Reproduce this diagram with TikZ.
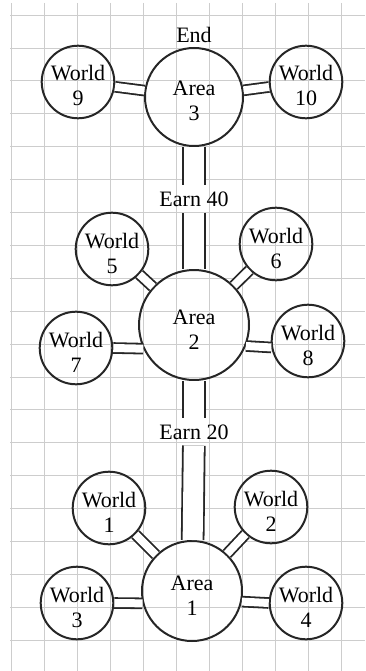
\documentclass[tikz,border=0pt]{standalone}
\usepackage{fontspec}
\setmainfont{Liberation Serif}
\usetikzlibrary{positioning}

\definecolor{ink}{HTML}{262626}
\definecolor{paper}{HTML}{CDCDCD}

\tikzset{
  area/.style={circle,draw=ink,line width=2pt,minimum size=98pt,inner sep=0pt,align=center,
    text height=48pt,text depth=-8pt},
  world/.style={area,minimum size=68pt},
  earn/.style={inner sep=6pt},
  road/.style={draw=ink,line width=1.8pt,double=white,double distance=8pt},
  bigroad/.style={road,double distance=20pt},
}

\begin{document}
\begin{tikzpicture}[x=1pt,y=-1pt,on grid,font=\fontsize{22}{25}\selectfont]
\useasboundingbox (0,0) rectangle (365,671);

% squared paper
\foreach \x in {0,...,10}
  \draw[paper,line width=0.7pt] (11+33*\x,3) -- (11+33*\x,671);
\foreach \y in {0,...,19}
  \draw[paper,line width=0.7pt] (10,15+32.9*\y) -- (365,15+32.9*\y);

\node (a3) [area] at (194,97) {Area\\3};
\node (end) [above=62pt of a3] {End};
\node (e40) [earn,below=102pt of a3] {Earn 40};
\node (a2) [area,minimum size=110pt,below=126pt of e40] {Area\\2};
\node (e20) [earn,below=107pt of a2] {Earn 20};
\node (a1) [area,minimum size=100pt,below=159pt of e20,xshift=-2pt] {Area\\1};

\node (w9) [world,above left=15pt and 116pt of a3] {World\\9};
\node (w10) [world,minimum size=66pt,above right=15pt and 112pt of a3] {World\\10};

\node (w5) [world,minimum size=72pt,above left=76pt and 82pt of a2] {World\\5};
\node (w6) [world,minimum size=70pt,above right=81pt and 82pt of a2] {World\\6};
\node (w7) [world,minimum size=72pt,below left=23pt and 118pt of a2] {World\\7};
\node (w8) [world,minimum size=70pt,below right=16pt and 114pt of a2] {World\\8};

\node (w1) [world,minimum size=66pt,above left=83pt and 83pt of a1] {World\\1};
\node (w2) [world,minimum size=66pt,above right=84pt and 79pt of a1] {World\\2};
\node (w3) [world,minimum size=70pt,below left=12pt and 115pt of a1] {World\\3};
\node (w4) [world,minimum size=72pt,below right=12pt and 114pt of a1] {World\\4};

% main road
\draw[bigroad] (a3) -- (e40);
\draw[bigroad] (e40) -- (a2);
\draw[bigroad] (a2) -- (e20);
\draw[bigroad] (e20) -- (a1);

% side roads
\draw[road] (w9) -- (a3);
\draw[road] (a3) -- (w10);
\draw[road] (w5) -- (a2);
\draw[road] (w6) -- (a2);
\draw[road] (w7.east) -- (a2.205);
\draw[road] (a2.-22) -- (w8.190);
\draw[road] (w1) -- (a1);
\draw[road] (w2) -- (a1);
\draw[road] (w3.east) -- (a1.194);
\draw[road] (a1.-12) -- (w4.west);

\end{tikzpicture}
\end{document}
